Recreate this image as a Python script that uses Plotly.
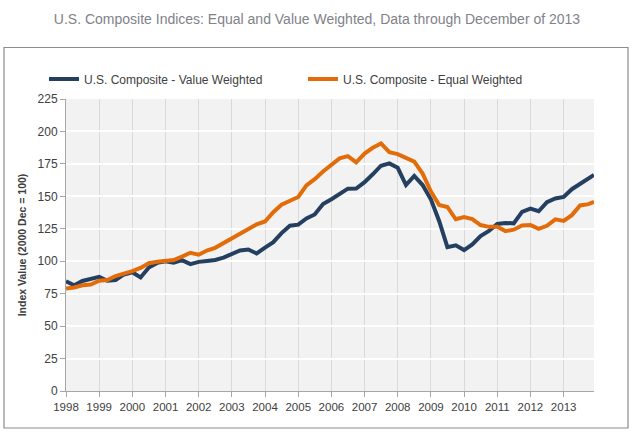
import plotly.graph_objects as go

years = list(range(1998, 2014))
quarter_months = [1, 4, 7, 10]
dates = [f"{y}-{m:02d}-01" for y in years for m in quarter_months] + ["2013-12-01"]

value_weighted = [
    84.5, 81.5, 84.8, 86.5,
    88.0, 85.0, 85.5, 89.8,
    91.5, 87.5, 95.2, 98.7,
    100.0, 98.8, 100.8, 97.8,
    99.5, 100.2, 101.0, 102.8,
    106.0, 108.3, 109.0, 106.0,
    110.5, 114.7, 121.7, 127.4,
    128.2, 133.0, 136.0, 144.0,
    147.8, 151.5, 155.9, 156.0,
    160.9, 167.0, 173.6, 175.4,
    172.0, 158.7, 165.7, 158.7,
    147.5, 131.0, 110.8, 112.3,
    108.6, 113.0, 119.4, 123.3,
    128.7, 129.5, 129.2, 138.0,
    140.5, 138.5, 145.5, 148.3,
    149.5, 155.5, 159.3, 164.0, 166.5,
]

equal_weighted = [
    78.9, 79.8, 81.5, 82.0,
    85.0, 85.5, 88.6, 90.3,
    92.3, 94.8, 98.5, 99.6,
    100.4, 100.9, 103.5, 106.5,
    105.0, 108.2, 110.3, 114.0,
    117.3, 121.0, 125.2, 128.4,
    130.6, 137.8, 143.5, 146.5,
    149.5, 158.5, 163.2, 169.2,
    174.5, 179.3, 181.0, 176.2,
    183.0, 187.4, 190.8, 184.0,
    182.5, 179.5, 176.7, 167.5,
    153.6, 143.3, 141.8, 132.3,
    134.0, 132.5, 127.9, 126.5,
    126.5, 123.2, 124.3, 127.5,
    127.9, 124.9, 127.3, 132.3,
    131.0, 135.5, 143.0, 144.0, 145.8,
]

y_ticks = [0, 25, 50, 75, 100, 125, 150, 175, 200, 225]
x_tick_labels = [str(y) for y in years]
x_tick_vals = [f"{y}-01-01" for y in years]

NAVY = "#243F60"
ORANGE = "#E36C0A"
TEXT = "#404040"

W, H = 634, 433
L, R, T, B = 66, 594, 99, 391  # plot area edges in px
PW, PH = R - L, B - T

fig = go.Figure()
fig.add_trace(go.Scatter(x=dates, y=value_weighted, mode="lines",
                         name="U.S. Composite - Value Weighted",
                         line=dict(color=NAVY, width=4)))
fig.add_trace(go.Scatter(x=dates, y=equal_weighted, mode="lines",
                         name="U.S. Composite - Equal Weighted",
                         line=dict(color=ORANGE, width=4)))

fig.update_layout(
    width=W, height=H,
    margin=dict(l=L, r=W - R, t=T, b=H - B),
    paper_bgcolor="white",
    plot_bgcolor="#F2F2F2",
    font=dict(family="Liberation Sans, Arial, sans-serif", size=11, color=TEXT),
    title=dict(text="U.S. Composite Indices: Equal and Value Weighted, Data through December of 2013",
               x=0.5, xanchor="center", y=1 - 19 / H, yanchor="middle",
               font=dict(family="Liberation Sans, Arial, sans-serif",
                         size=14, color="#7F8289")),
    showlegend=True,
    legend=dict(orientation="h", x=(44 - L) / PW, xanchor="left", y=(B - 79) / PH, yanchor="middle",
                font=dict(size=12, color=TEXT), bgcolor="rgba(0,0,0,0)",
                entrywidth=214, entrywidthmode="pixels", itemwidth=30),
    xaxis=dict(range=["1998-01-01", "2013-12-01"], tickvals=x_tick_vals, ticktext=x_tick_labels,
               showgrid=True, gridcolor="#D9D9D9", gridwidth=1,
               showline=True, linecolor="#A6A6A6", linewidth=1,
               ticks="outside", ticklen=5, tickcolor="#A6A6A6",
               tickfont=dict(size=11.5, color=TEXT), zeroline=False, fixedrange=True),
    yaxis=dict(range=[0, 225], tickvals=y_ticks,
               showgrid=True, gridcolor="white", gridwidth=1.5,
               showline=True, linecolor="#A6A6A6", linewidth=1,
               ticks="outside", ticklen=5, tickcolor="#A6A6A6",
               tickfont=dict(size=12, color=TEXT), zeroline=False, fixedrange=True,
               title=dict(text="<b>Index Value (2000 Dec = 100)</b>", standoff=8,
                          font=dict(size=10.5, color=TEXT))),
    shapes=[dict(type="rect", xref="paper", yref="paper",
                 x0=(4 - L) / PW, x1=(628 - L) / PW,
                 y0=(B - 428) / PH, y1=(B - 47.5) / PH,
                 line=dict(color="#8C8C8C", width=1.2), fillcolor="rgba(0,0,0,0)",
                 layer="below")],
)

fig.write_html("out.html",
               config={"displayModeBar": False},
               post_script="document.body.style.margin='0';document.body.style.overflow='hidden';")
